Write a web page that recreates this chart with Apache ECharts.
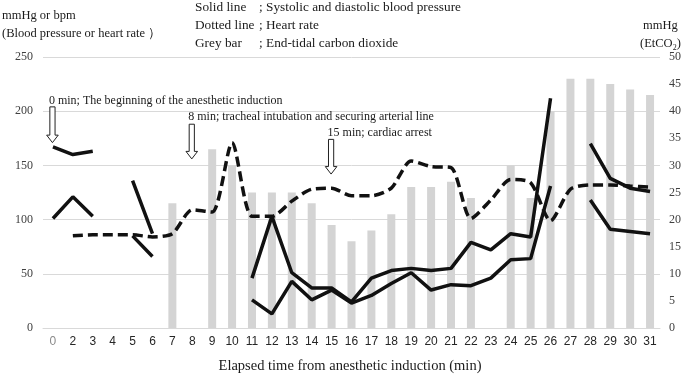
<!DOCTYPE html>
<html><head><meta charset="utf-8">
<script src="https://cdn.jsdelivr.net/npm/echarts@6/dist/echarts.min.js"></script>
<style>html,body{margin:0;padding:0;background:#fff}#c{width:685px;height:375px}</style>
</head><body><div id="c"></div>
<script>
// ---- data ----
const categories = ['0','2','3','4','5','6','7','8','9','10','11','12','13','14','15','16','17','18','19','20','21','22','23','24','25','26','27','28','29','30','31'];
const systolic  = [167,160,163,null,136,87,null,null,null,null,46,103,51,37,37,24,46,53,55,53,55,79,72,87,84,212,null,170,138,129,126];
const diastolic = [101,121,103,null,85,66,null,null,null,null,26,13,43,26,35,23,30,41,51,35,40,39,46,63,64,131,null,118,91,89,87];
const heartRate = [null,85,86,86,86,84,87,109,107,171,103,103,117,128,129,122,122,129,154,149,148,101,118,137,134,99,128,132,132,131,130];
const etco2     = [null,null,null,null,null,null,23,null,33,30,25,25,25,23,19,16,18,21,26,26,27,24,null,30,24,40,46,46,45,44,43];
const leftTicks = {min:0, max:250, interval:50};
const rightTicks = {min:0, max:50, interval:5};
// annotations: category, arrow top value, arrow tip value, text value, text
const annCats  = ['0','8','15'];
const annTop   = [204,188,174];
const annTip   = [171,156,142];
const annTextY = [209.5,194.5,180];
const annText  = ['0 min; The beginning of the anesthetic induction','8 min; tracheal intubation and securing arterial line','15 min; cardiac arrest'];

const SERIF = '"Liberation Serif","Times New Roman",serif';
const SANS = '"Liberation Sans",Arial,sans-serif';
const chart = echarts.init(document.getElementById('c'), null, {renderer:'canvas'});

const lineStyleSolid = {color:'#111', width:3.5};
const option = {
  animation:false,
  backgroundColor:'#fff',
  grid:{left:43, right:25, top:57, bottom:47, containLabel:false},
  xAxis:{
    type:'category', data:categories, boundaryGap:true,
    axisLine:{show:true, lineStyle:{color:'#d9d9d9', width:1}},
    axisTick:{show:false},
    axisLabel:{
      fontFamily:SANS, fontSize:12, margin:8,
      color:function(v, i){ return v === '0' ? '#8a8a8a' : '#262626'; }
    },
    splitLine:{show:false}
  },
  yAxis:[
    {type:'value', min:leftTicks.min, max:leftTicks.max, interval:leftTicks.interval,
     axisLine:{show:false}, axisTick:{show:false},
     axisLabel:{fontFamily:SERIF, fontSize:12, color:'#404040', margin:10},
     splitLine:{show:true, lineStyle:{color:'#d9d9d9', width:1}}},
    {type:'value', min:rightTicks.min, max:rightTicks.max, interval:rightTicks.interval,
     position:'right',
     axisLine:{show:false}, axisTick:{show:false},
     axisLabel:{fontFamily:SERIF, fontSize:12, color:'#404040', margin:9},
     splitLine:{show:false}}
  ],
  series:[
    {name:'EtCO2', type:'bar', yAxisIndex:1, data:etco2, barWidth:8,
     itemStyle:{color:'#d4d4d4'}, z:1},
    {name:'Systolic', type:'line', data:systolic, connectNulls:false, showSymbol:false, symbol:'none',
     lineStyle:lineStyleSolid, z:3},
    {name:'Diastolic', type:'line', data:diastolic, connectNulls:false, showSymbol:false, symbol:'none',
     lineStyle:lineStyleSolid, z:3},
    {name:'Heart rate', type:'line', data:heartRate, connectNulls:false, showSymbol:false, symbol:'none',
     smooth:0.25,
     lineStyle:{color:'#111', width:3.5, type:[10,5]}, z:3}
  ]
};
chart.setOption(option);

// ---- text and annotation graphics ----
const g = [];
function txt(x, y, s, opts) {
  g.push({type:'text', x:x, y:y, z:10,
    style:Object.assign({text:s, fill:'#1a1a1a', font:'13.3px ' + SERIF, textVerticalAlign:'middle', textAlign:'left'}, opts||{})});
}
txt(2, 16, 'mmHg or bpm', {font:'12.5px ' + SERIF});
txt(2, 34, '(Blood pressure or heart rate \uFF09', {font:'12.5px ' + SERIF});
txt(195, 8, 'Solid line');
txt(259, 8, '; Systolic and diastolic blood pressure');
txt(195, 26, 'Dotted line');
txt(259, 26, '; Heart rate');
txt(195, 44, 'Grey bar');
txt(259, 44, '; End-tidal carbon dioxide');
txt(643, 26, 'mmHg', {font:'12.5px ' + SERIF});
g.push({type:'text', x:640, y:44, z:10, style:{
  text:'{a|(EtCO}{s|2}{a|)}', textVerticalAlign:'middle',
  rich:{a:{font:'12.5px ' + SERIF, fill:'#1a1a1a', lineHeight:16},
        s:{font:'8px ' + SERIF, fill:'#1a1a1a', verticalAlign:'bottom', lineHeight:16, padding:[5,0,0,0]}}
}});
txt(350, 366, 'Elapsed time from anesthetic induction (min)', {font:'14.5px ' + SERIF, textAlign:'center'});

for (let i = 0; i < annCats.length; i++) {
  const top = chart.convertToPixel({xAxisIndex:0, yAxisIndex:0}, [annCats[i], annTop[i]]);
  const tip = chart.convertToPixel({xAxisIndex:0, yAxisIndex:0}, [annCats[i], annTip[i]]);
  const cx = top[0] - 0.5, ty = top[1], py = tip[1];
  const sw = 2.6, hw = 5.8, hh = 7.5;
  g.push({type:'polygon', z:10, shape:{points:[
    [cx - sw, ty], [cx + sw, ty], [cx + sw, py - hh], [cx + hw, py - hh],
    [cx, py], [cx - hw, py - hh], [cx - sw, py - hh]
  ]}, style:{fill:'#fff', stroke:'#222', lineWidth:1}});
  const tp = chart.convertToPixel({xAxisIndex:0, yAxisIndex:0}, [annCats[i], annTextY[i]]);
  txt(tp[0] - 4, tp[1], annText[i], {font:'12px ' + SERIF});
}
chart.setOption({graphic:g});
</script>
</body></html>
